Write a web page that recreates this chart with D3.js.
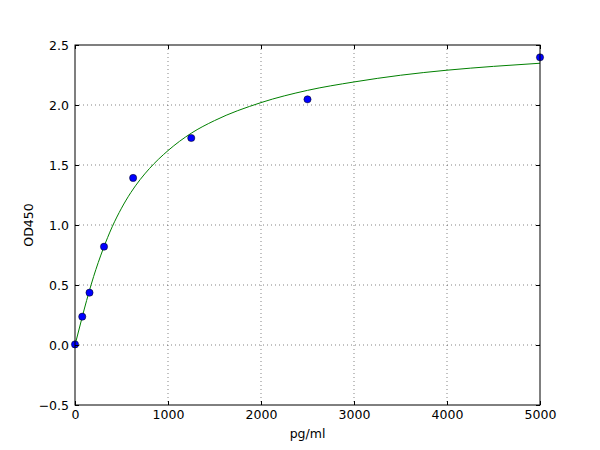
<!DOCTYPE html>
<html><head><meta charset="utf-8">
<script src="https://cdn.jsdelivr.net/npm/d3@7"></script>
<style>body{margin:0;background:#fff}svg{display:block}text{font-family:"DejaVu Sans",sans-serif}</style>
</head><body>
<svg id="c" width="600" height="450"></svg>
<script>
// measured standards
const concX = [0, 78, 156, 312, 625, 1250, 2500, 5000];
const odY = [0.005, 0.236, 0.436, 0.819, 1.392, 1.725, 2.047, 2.397];
// fitted curve
const curveX = [0, 50, 100, 150, 200, 300, 400, 500, 600, 700, 800, 1000, 1250, 1500, 2000, 2500, 3000, 3500, 4000, 4500, 5000];
const curveY = [0.0, 0.15, 0.30, 0.44, 0.57, 0.795, 0.985, 1.14, 1.27, 1.378, 1.47, 1.62, 1.765, 1.87, 2.02, 2.122, 2.192, 2.248, 2.29, 2.322, 2.348];
const xTicks = [0, 1000, 2000, 3000, 4000, 5000];
const yTicks = [-0.5, 0.0, 0.5, 1.0, 1.5, 2.0, 2.5];

const svg = d3.select("#c");
const L = 75, R = 540, T = 45, B = 405;
const x = d3.scaleLinear().domain([0, 5000]).range([L, R]);
const y = d3.scaleLinear().domain([-0.5, 2.5]).range([B, T]);

// grid
const g = svg.append("g");
g.selectAll(".gx").data(xTicks.slice(1, -1)).enter().append("line")
  .attr("x1", d => x(d)).attr("x2", d => x(d)).attr("y1", T).attr("y2", B)
  .attr("stroke", "#000").attr("stroke-width", 0.6).attr("stroke-dasharray", "1,3").attr("opacity", 0.8);
g.selectAll(".gy").data(yTicks.slice(1, -1)).enter().append("line")
  .attr("y1", d => y(d)).attr("y2", d => y(d)).attr("x1", L).attr("x2", R)
  .attr("stroke", "#000").attr("stroke-width", 0.6).attr("stroke-dasharray", "1,3").attr("opacity", 0.8);

// curve
const line = d3.line().x(d => x(d[0])).y(d => y(d[1])).curve(d3.curveMonotoneX);
svg.append("path").datum(curveX.map((v, i) => [v, curveY[i]]))
  .attr("d", line).attr("fill", "none").attr("stroke", "#008000").attr("stroke-width", 1);

// points
svg.selectAll(".pt").data(concX.map((v, i) => [v, odY[i]])).enter().append("circle")
  .attr("cx", d => x(d[0])).attr("cy", d => y(d[1])).attr("r", 3.6)
  .attr("fill", "#0000ff").attr("stroke", "#000").attr("stroke-width", 0.5);

// frame
svg.append("rect").attr("x", L).attr("y", T).attr("width", R - L).attr("height", B - T)
  .attr("fill", "none").attr("stroke", "#000").attr("stroke-width", 1);

// axes with inward ticks
const fmtY = d => d3.format(".1f")(d).replace("-", "\u2212");
const ax = d3.axisBottom(x).tickValues(xTicks).tickSize(-4).tickPadding(5).tickFormat(d3.format("d"));
const axB = svg.append("g").attr("transform", `translate(0,${B})`).call(ax);
const axT = svg.append("g").attr("transform", `translate(0,${T})`).call(d3.axisTop(x).tickValues(xTicks).tickSize(-4).tickFormat(""));
const ay = d3.axisLeft(y).tickValues(yTicks).tickSize(-4).tickPadding(6).tickFormat(fmtY);
const ayL = svg.append("g").attr("transform", `translate(${L},0)`).call(ay);
const ayR = svg.append("g").attr("transform", `translate(${R},0)`).call(d3.axisRight(y).tickValues(yTicks).tickSize(-4).tickFormat(""));
[axB, axT, ayL, ayR].forEach(a => {
  a.select(".domain").remove();
  a.selectAll("text").attr("font-size", 12.5).attr("fill", "#000").style("font-family", "DejaVu Sans");
  a.selectAll("line").attr("stroke", "#000");
});

svg.append("text").attr("x", (L + R) / 2).attr("y", 438).attr("text-anchor", "middle")
  .attr("font-size", 12.5).text("pg/ml");
svg.append("text").attr("transform", `translate(33,${(T + B) / 2}) rotate(-90)`).attr("text-anchor", "middle")
  .attr("font-size", 12.5).text("OD450");
</script>
</body></html>
